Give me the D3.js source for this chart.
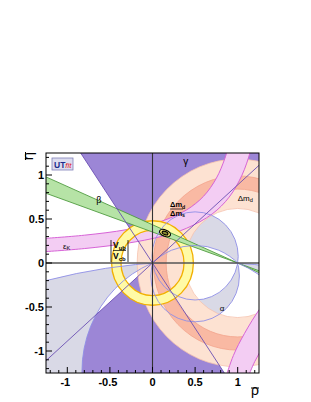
<!DOCTYPE html>
<html>
<head>
<meta charset="utf-8">
<script src="https://cdn.jsdelivr.net/npm/d3@7"></script>
<style>
body { margin:0; background:#fff; }
text { font-family:"Liberation Sans", Arial, sans-serif; }
</style>
</head>
<body>
<svg id="chart" width="311" height="402"></svg>
<script>
// ---- data (rho, eta units) ----
var xTicks = [-1, -0.5, 0, 0.5, 1];
var yTicks = [-1, -0.5, 0, 0.5, 1];
var tickLabels = ["-1", "-0.5", "0", "0.5", "1"];

// gamma: wedge edges (degrees) seen from the origin, plus the mirrored wedge
var gammaEdges = [41.6, 124];
// alpha: circles through (0,0) and (1,0) -> [centre rho, centre eta, radius]
var alphaUpper = [[0.5, 0.075, 0.506], [0.5, -0.525, 0.725]];
var alphaLower = [[0.5, -0.148, 0.52], [0.5, 0.088, 0.508]];
var alphaFar   = [[0.5, -7.13, 7.147], [0.5, -1.23, 1.328]];
// Delta m_d ring and Delta m_d / Delta m_s ring around (1,0)
var dmdRadii  = [0.62, 1.18];
var dmsRadii  = [0.84, 0.99];
// |Vub/Vcb| ring around (0,0)
var vubRadii  = [0.37, 0.48];
// sin2beta band: angles (degrees) of the lines through (1,0)
var betaEdges = [19.4, 23.5];
// epsilon_K band edges
var epsUpper = [[-1.3,0.277],[-0.8,0.316],[-0.3,0.38],[0.1,0.473],[0.4,0.603],[0.6,0.759],[0.75,0.964],[0.85,1.19],[0.9,1.36]];
var epsLower = [[-1.3,0.126],[-0.8,0.164],[-0.3,0.224],[0.1,0.301],[0.4,0.395],[0.7,0.557],[0.9,0.749],[1.05,0.998],[1.15,1.27],[1.2,1.47]];
// second magenta band, lower right
var epsLowLeft  = [[0.86,-1.3],[0.95,-1.05],[1.08,-0.8],[1.26,-0.52],[1.4,-0.35]];
var epsLowRight = [[1.12,-1.3],[1.2,-1.12],[1.3,-0.95],[1.4,-0.8]];
// fit result
var fitCentre = [0.147, 0.34];
var fit95 = [0.068, 0.036];
var fit68 = [0.036, 0.018];

// ---- chart ----
var svg = d3.select("#chart");
var x = d3.scaleLinear().domain([-1.25, 1.25]).range([46, 259]);
var y = d3.scaleLinear().domain([-1.25, 1.25]).range([373, 153]);

svg.append("clipPath").attr("id", "frame")
  .append("rect").attr("x", x(-1.25)).attr("y", y(1.25))
  .attr("width", x(1.25) - x(-1.25)).attr("height", y(-1.25) - y(1.25));
svg.append("clipPath").attr("id", "up")
  .append("rect").attr("x", x(-1.25)).attr("y", y(1.25))
  .attr("width", x(1.25) - x(-1.25)).attr("height", y(0) - y(1.25));
svg.append("clipPath").attr("id", "down")
  .append("rect").attr("x", x(-1.25)).attr("y", y(0))
  .attr("width", x(1.25) - x(-1.25)).attr("height", y(-1.25) - y(0));

var plot = svg.append("g").attr("clip-path", "url(#frame)");

// ellipse path in pixels for a circle in data units
function circ(c0, c1, r) {
  var px = x(c0), py = y(c1), rx = x(c0 + r) - px, ry = py - y(c1 + r);
  return "M" + (px - rx) + "," + py
    + "a" + rx + "," + ry + " 0 1,0 " + (2 * rx) + ",0"
    + "a" + rx + "," + ry + " 0 1,0 " + (-2 * rx) + ",0Z";
}
var line = d3.line().x(function(d) { return x(d[0]); }).y(function(d) { return y(d[1]); });
var smooth = d3.line().x(function(d) { return x(d[0]); }).y(function(d) { return y(d[1]); })
  .curve(d3.curveCatmullRom);
var rad = Math.PI / 180;

// gamma wedges
function wedge(a0, a1) {
  var pts = [[0, 0]];
  d3.range(a0, a1 + 0.01, (a1 - a0) / 8).forEach(function(a) {
    pts.push([5 * Math.cos(a * rad), 5 * Math.sin(a * rad)]);
  });
  return line(pts) + "Z";
}
plot.append("path")
  .attr("d", wedge(gammaEdges[0], gammaEdges[1]) + wedge(gammaEdges[0] + 180, gammaEdges[1] + 180))
  .attr("fill", "#9c86d6");

// alpha regions
var alphaFill = "#d9d9e6", alphaLine = "#8f8fe6";
[[alphaUpper, "up"], [alphaLower, "down"], [alphaFar, "down"]].forEach(function(a) {
  plot.append("g").attr("clip-path", "url(#" + a[1] + ")")
    .append("path")
    .attr("d", circ(a[0][0][0], a[0][0][1], a[0][0][2]) + circ(a[0][1][0], a[0][1][1], a[0][1][2]))
    .attr("fill-rule", "evenodd").attr("fill", alphaFill);
});

// Delta m_d
plot.append("path")
  .attr("d", circ(1, 0, dmdRadii[1]) + circ(1, 0, dmdRadii[0]))
  .attr("fill-rule", "evenodd").attr("fill", "#fde2d2")
  .attr("stroke", "#f6c3ae").attr("stroke-width", 0.8);
// Delta m_d / Delta m_s
plot.append("path")
  .attr("d", circ(1, 0, dmsRadii[1]) + circ(1, 0, dmsRadii[0]))
  .attr("fill-rule", "evenodd").attr("fill", "#f9b9a3")
  .attr("stroke", "#f2a38c").attr("stroke-width", 0.8);

// epsilon_K
var epsFill = "#f3cdf3", epsLine = "#d763d7";
plot.append("path")
  .attr("d", smooth(epsUpper) + "L" + smooth(epsLower.slice().reverse()).slice(1) + "Z")
  .attr("fill", epsFill);
plot.append("path")
  .attr("d", smooth(epsLowLeft) + "L" + smooth(epsLowRight.slice().reverse()).slice(1) + "Z")
  .attr("fill", epsFill);
[epsUpper, epsLower, epsLowLeft, epsLowRight].forEach(function(e) {
  plot.append("path").attr("d", smooth(e)).attr("fill", "none")
    .attr("stroke", epsLine).attr("stroke-width", 1);
});

// |Vub/Vcb|
plot.append("path")
  .attr("d", circ(0, 0, vubRadii[1]) + circ(0, 0, vubRadii[0]))
  .attr("fill-rule", "evenodd").attr("fill", "#fffaa6")
  .attr("stroke", "#f2b000").attr("stroke-width", 1.3);

// sin2beta
function betaTri(b0, b1, s) {
  return line([[1, 0],
    [1 - s * 4 * Math.cos(b0 * rad), s * 4 * Math.sin(b0 * rad)],
    [1 - s * 4 * Math.cos(b1 * rad), s * 4 * Math.sin(b1 * rad)]]) + "Z";
}
plot.append("path")
  .attr("d", betaTri(betaEdges[0], betaEdges[1], 1) + betaTri(betaEdges[0], betaEdges[1], -1))
  .attr("fill", "#b6e3a6");
betaEdges.forEach(function(b) {
  plot.append("path")
    .attr("d", line([[1 - 4 * Math.cos(b * rad), 4 * Math.sin(b * rad)],
                     [1 + 4 * Math.cos(b * rad), -4 * Math.sin(b * rad)]]))
    .attr("stroke", "#4f9c3f").attr("stroke-width", 0.9);
});

// alpha outlines
[[alphaUpper, "up"], [alphaLower, "down"], [alphaFar, "down"]].forEach(function(a) {
  var g = plot.append("g").attr("clip-path", "url(#" + a[1] + ")");
  a[0].forEach(function(c) {
    g.append("path").attr("d", circ(c[0], c[1], c[2]))
      .attr("fill", "none").attr("stroke", alphaLine).attr("stroke-width", 0.9);
  });
});

// gamma lines
gammaEdges.forEach(function(a) {
  plot.append("path")
    .attr("d", line([[-5 * Math.cos(a * rad), -5 * Math.sin(a * rad)],
                     [5 * Math.cos(a * rad), 5 * Math.sin(a * rad)]]))
    .attr("stroke", "#6b4fb3").attr("stroke-width", 0.9);
});

// fit result
[[fit95, "#f2e36a"], [fit68, "#8a8a30"]].forEach(function(f) {
  plot.append("ellipse")
    .attr("cx", x(fitCentre[0])).attr("cy", y(fitCentre[1]))
    .attr("rx", x(f[0][0]) - x(0)).attr("ry", y(0) - y(f[0][1]))
    .attr("transform", "rotate(22," + x(fitCentre[0]) + "," + y(fitCentre[1]) + ")")
    .attr("fill", f[1]).attr("stroke", "#000").attr("stroke-width", 1.1);
});

// rho = 0 and eta = 0 axes
plot.append("line").attr("x1", x(-1.25)).attr("x2", x(1.25)).attr("y1", y(0)).attr("y2", y(0))
  .attr("stroke", "#555").attr("stroke-width", 1.4);
plot.append("line").attr("x1", x(0)).attr("x2", x(0)).attr("y1", y(-1.25)).attr("y2", y(1.25))
  .attr("stroke", "#333").attr("stroke-width", 1.1);

// frame and ticks
svg.append("rect").attr("x", x(-1.25)).attr("y", y(1.25))
  .attr("width", x(1.25) - x(-1.25)).attr("height", y(-1.25) - y(1.25))
  .attr("fill", "none").attr("stroke", "#000").attr("stroke-width", 1);
var minor = d3.range(-12, 13).map(function(i) { return i / 10; });
minor.forEach(function(t) {
  var major = Math.abs(t * 2 - Math.round(t * 2)) < 1e-6;
  var len = major ? 6 : 3;
  svg.append("line").attr("x1", x(t)).attr("x2", x(t))
    .attr("y1", y(-1.25)).attr("y2", y(-1.25) - len).attr("stroke", "#000");
  svg.append("line").attr("y1", y(t)).attr("y2", y(t))
    .attr("x1", x(-1.25)).attr("x2", x(-1.25) + len).attr("stroke", "#000");
});
xTicks.forEach(function(t, i) {
  svg.append("text").attr("x", x(t) - (t < 0 ? 2 : 0)).attr("y", 386)
    .attr("text-anchor", "middle").attr("font-size", 11).attr("font-weight", "bold")
    .text(tickLabels[i]);
});
yTicks.forEach(function(t, i) {
  svg.append("text").attr("x", 44).attr("y", y(t) + 4)
    .attr("text-anchor", "end").attr("font-size", 11).attr("font-weight", "bold")
    .text(tickLabels[i]);
});
// axis titles with drawn bars
svg.append("text").attr("transform", "translate(33,152) rotate(-90)")
  .attr("text-anchor", "end").attr("font-size", 15).text("\u03b7");
svg.append("line").attr("x1", 25.5).attr("x2", 25.5).attr("y1", 152).attr("y2", 160)
  .attr("stroke", "#000").attr("stroke-width", 1);
svg.append("text").attr("x", 259).attr("y", 395)
  .attr("text-anchor", "end").attr("font-size", 14).text("\u03c1");
svg.append("line").attr("x1", 251).attr("x2", 259).attr("y1", 388).attr("y2", 388)
  .attr("stroke", "#000").attr("stroke-width", 1);

// logo
svg.append("rect").attr("x", 52).attr("y", 158).attr("width", 21).attr("height", 12)
  .attr("fill", "#dcdcef").attr("stroke", "#8080b8").attr("stroke-width", 0.8);
var logo = svg.append("text").attr("x", 54).attr("y", 167.5).attr("font-size", 8.5);
logo.append("tspan").attr("fill", "#1c2b8c").attr("font-weight", "bold").text("UT");
logo.append("tspan").attr("fill", "#e0242a").attr("font-style", "italic").attr("font-size", 8).text("fit");

// constraint labels
function label(px, py, s, sub, size) {
  var t = svg.append("text").attr("x", px).attr("y", py).attr("font-size", size || 9);
  t.append("tspan").text(s);
  if (sub) t.append("tspan").attr("font-size", (size || 9) * 0.7).attr("dy", 1.5).text(sub);
  return t;
}
label(x(0.36), y(1.11), "\u03b3", null, 10);
label(x(-0.66), y(0.68), "\u03b2", null, 9);
label(x(0.79), y(-0.55), "\u03b1", null, 8);
label(x(-1.05), y(0.16), "\u03b5", "K", 8);
label(x(1.0), y(0.71), "\u0394m", "d", 8);
// Delta m_d / Delta m_s
label(170, 207, "\u0394m", "d", 7.5).attr("font-weight", "bold");
svg.append("line").attr("x1", 170).attr("x2", 183).attr("y1", 209).attr("y2", 209)
  .attr("stroke", "#000").attr("stroke-width", 0.7);
label(170, 215.5, "\u0394m", "s", 7.5).attr("font-weight", "bold");
// |Vub/Vcb|
svg.append("line").attr("x1", 111).attr("x2", 111).attr("y1", 240).attr("y2", 262).attr("stroke", "#000").attr("stroke-width", 0.8);
svg.append("line").attr("x1", 128).attr("x2", 128).attr("y1", 240).attr("y2", 262).attr("stroke", "#000").attr("stroke-width", 0.8);
label(113, 248, "V", "ub", 8.5).attr("font-weight", "bold");
svg.append("line").attr("x1", 113).attr("x2", 126).attr("y1", 250.5).attr("y2", 250.5)
  .attr("stroke", "#000").attr("stroke-width", 0.7);
label(113, 259, "V", "cb", 8.5).attr("font-weight", "bold");
</script>
</body>
</html>
